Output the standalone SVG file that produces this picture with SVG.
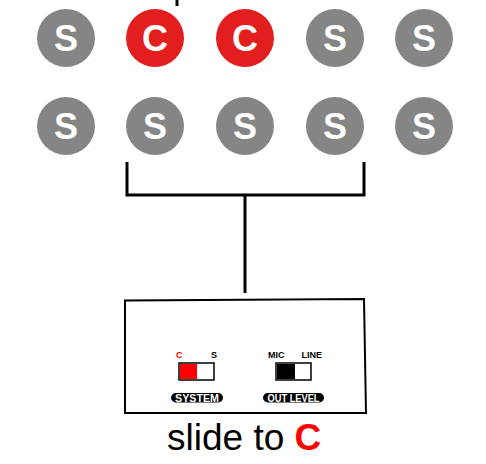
<svg xmlns="http://www.w3.org/2000/svg" width="486" height="464" viewBox="0 0 486 464">
<style>
.s{fill:#858585}
.c{fill:#e31e1e}
.l{font-family:"Liberation Sans",Arial,sans-serif;font-weight:bold;font-size:36px;fill:#fff;text-anchor:middle}
.w{stroke:#000;stroke-width:3;fill:none}
.sm{font-family:"Liberation Sans",Arial,sans-serif;font-weight:bold;font-size:9px}
.pl{font-family:"Liberation Sans",Arial,sans-serif;font-weight:bold;font-size:10px;fill:#fff;text-anchor:middle}
</style>
<rect width="486" height="464" fill="#fff"/>
<g id="top1"><circle class="s" cx="66" cy="38" r="29"/><text class="l" x="66" y="51">S</text></g>
<g id="top2"><circle class="c" cx="155" cy="38" r="29"/><text class="l" x="155" y="51">C</text></g>
<g id="top3"><circle class="c" cx="245" cy="38" r="29"/><text class="l" x="245" y="51">C</text></g>
<g id="top4"><circle class="s" cx="335" cy="38" r="29"/><text class="l" x="335" y="51">S</text></g>
<g id="top5"><circle class="s" cx="424" cy="38" r="29"/><text class="l" x="424" y="51">S</text></g>
<g id="bot1"><circle class="s" cx="66" cy="126" r="29"/><text class="l" x="66" y="139">S</text></g>
<g id="bot2"><circle class="s" cx="155" cy="126" r="29"/><text class="l" x="155" y="139">S</text></g>
<g id="bot3"><circle class="s" cx="245" cy="126" r="29"/><text class="l" x="245" y="139">S</text></g>
<g id="bot4"><circle class="s" cx="335" cy="126" r="29"/><text class="l" x="335" y="139">S</text></g>
<g id="bot5"><circle class="s" cx="424" cy="126" r="29"/><text class="l" x="424" y="139">S</text></g>
<g id="connectors">
<line class="w" x1="177" y1="0" x2="177" y2="6"/>
<polyline class="w" points="127,162 127,195 364,195 364,162"/>
<line class="w" x1="245" y1="195" x2="245" y2="293"/>
</g>
<g id="device">
<path d="M125,300.5 L364,299 L366,413 L125,413 Z" fill="#fff" stroke="#000" stroke-width="2"/>
<text class="sm" x="176" y="358" fill="#e00">C</text>
<text class="sm" x="217" y="358" text-anchor="end" fill="#000">S</text>
<rect x="179" y="363" width="35" height="17" fill="#fff" stroke="#000" stroke-width="1.5"/>
<rect x="180" y="364" width="17" height="15" fill="#f00"/>
<text class="sm" x="268" y="358" fill="#000">MIC</text>
<text class="sm" x="322" y="358" text-anchor="end" fill="#000">LINE</text>
<rect x="276" y="363" width="35" height="17" fill="#fff" stroke="#000" stroke-width="1.5"/>
<rect x="277" y="364" width="18" height="15" fill="#000"/>
<rect x="171" y="393" width="52" height="9.5" rx="4.75" fill="#000"/>
<text class="pl" x="197" y="401.5" textLength="44" lengthAdjust="spacingAndGlyphs">SYSTEM</text>
<rect x="263" y="393" width="61" height="9.5" rx="4.75" fill="#000"/>
<text class="pl" x="293.5" y="401.5" textLength="52" lengthAdjust="spacingAndGlyphs">OUT LEVEL</text>
</g>
<text x="167" y="450" font-family="'Liberation Sans',Arial,sans-serif" font-size="37" fill="#000">slide to <tspan font-weight="bold" fill="#f00">C</tspan></text>
</svg>
